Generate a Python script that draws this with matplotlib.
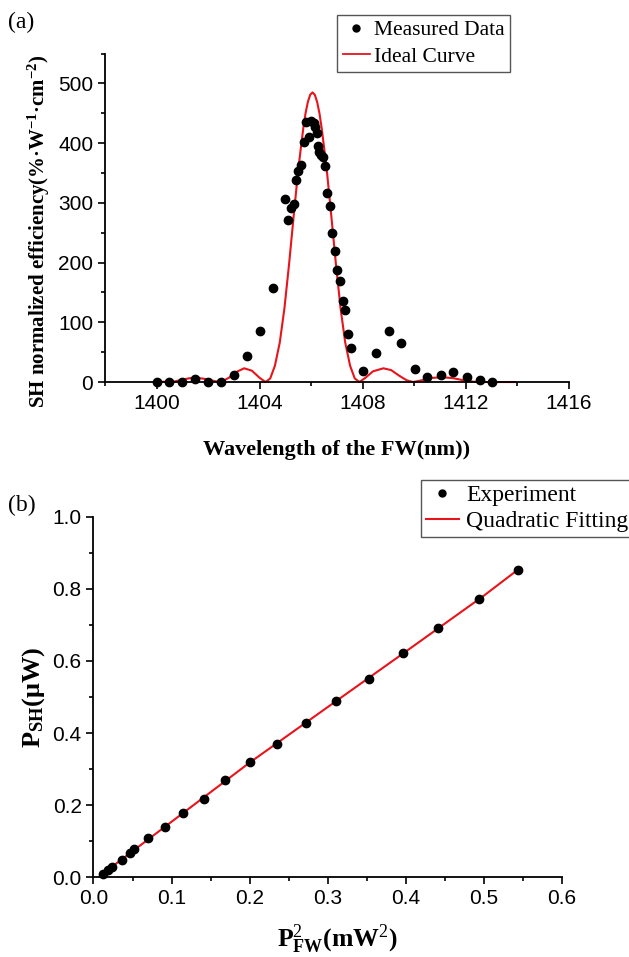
import matplotlib
matplotlib.use("Agg")
import matplotlib.pyplot as plt
from matplotlib.ticker import MultipleLocator
from matplotlib.lines import Line2D

plt.rcParams["font.family"] = ["Liberation Sans", "DejaVu Sans"]
plt.rcParams["mathtext.fontset"] = "custom"
plt.rcParams["mathtext.rm"] = "Liberation Serif"
plt.rcParams["mathtext.it"] = "Liberation Serif:italic"
plt.rcParams["mathtext.bf"] = "Liberation Serif:bold"

# (a) SH normalized efficiency vs wavelength
meas_wl = [1400.0, 1400.5, 1401.0, 1401.5, 1402.0, 1402.5, 1403.0, 1403.5, 1404.0, 1404.5,
           1405.0, 1405.1, 1405.2, 1405.32, 1405.4, 1405.5, 1405.62, 1405.72, 1405.81, 1405.91,
           1405.99, 1406.1, 1406.15, 1406.23, 1406.27, 1406.31, 1406.38, 1406.46, 1406.52, 1406.6,
           1406.71, 1406.82, 1406.91, 1407.0, 1407.11, 1407.23, 1407.32, 1407.42, 1407.53, 1408.0,
           1408.52, 1409.01, 1409.5, 1410.02, 1410.51, 1411.02, 1411.5, 1412.03, 1412.53, 1413.02]
meas_eff = [0, 0, 0, 5, 0, 0, 11, 44, 85, 158,
            306, 271, 291, 298, 339, 353, 364, 402, 436, 411,
            437, 434, 427, 417, 396, 386, 380, 376, 361, 316,
            294, 250, 220, 187, 169, 135, 121, 80, 57, 18,
            48, 86, 65, 22, 8, 12, 17, 8, 4, 0]

ideal_wl = [1400.0, 1400.3, 1400.6, 1401.0, 1401.3, 1401.6, 1401.9, 1402.2, 1402.5, 1402.8,
            1403.1, 1403.4, 1403.7, 1404.0, 1404.23, 1404.41, 1404.59, 1404.78, 1404.96, 1405.14,
            1405.32, 1405.5, 1405.69, 1405.78, 1405.87, 1405.96, 1406.05, 1406.14, 1406.23, 1406.32,
            1406.41, 1406.6, 1406.78, 1406.96, 1407.14, 1407.32, 1407.51, 1407.69, 1407.87, 1408.1,
            1408.4, 1408.8, 1409.1, 1409.4, 1409.7, 1409.95, 1410.3, 1410.7, 1411.1, 1411.5,
            1411.9, 1412.3, 1412.7, 1413.9]
ideal_eff = [0, 0.5, 0, 4, 6.5, 7, 5, 2, 0, 7,
             17, 23, 19, 7, 0, 6, 27, 66, 123, 197,
             278, 357, 424, 450, 469, 481, 485, 481, 469, 450,
             424, 357, 278, 197, 123, 66, 27, 6, 0, 7,
             18, 23, 20, 11, 3, 0, 3, 7, 8, 6.5,
             3, 0.5, 0, 0]

# (b) SH power vs FW power squared
p_fw2 = [0.0128, 0.0184, 0.0235, 0.0368, 0.0462, 0.0513, 0.0697, 0.091, 0.115, 0.1415,
         0.169, 0.2009, 0.2355, 0.2727, 0.311, 0.3526, 0.3966, 0.4414, 0.4936, 0.5432]
p_sh = [0.009, 0.020, 0.029, 0.048, 0.068, 0.078, 0.109, 0.139, 0.179, 0.218,
        0.270, 0.320, 0.369, 0.429, 0.490, 0.551, 0.621, 0.690, 0.771, 0.852]
fit_x = [0.012, 0.1, 0.2, 0.3, 0.4, 0.5, 0.543]
fit_y = [0.010, 0.154, 0.318, 0.472, 0.626, 0.781, 0.852]

serif = "Liberation Serif"
red = "#e8141c"


def style_axes(ax):
    for s in ("top", "right"):
        ax.spines[s].set_visible(False)
    for s in ("left", "bottom"):
        ax.spines[s].set_linewidth(1.3)
    ax.tick_params(which="major", direction="out", length=5, width=1.2, labelsize=15)
    ax.tick_params(which="minor", direction="out", length=3, width=1.2)


fig = plt.figure(figsize=(6.29, 9.57), dpi=100)

ax1 = fig.add_axes([0.1669, 0.6008, 0.7377, 0.3432])
ax1.plot(ideal_wl, ideal_eff, color=red, lw=1.5, clip_on=False, zorder=2)
ax1.plot(meas_wl, meas_eff, "o", color="black", ms=6, clip_on=False, zorder=3)
ax1.set_xlim(1398, 1416)
ax1.set_ylim(0, 550)
ax1.xaxis.set_major_locator(MultipleLocator(4))
ax1.xaxis.set_minor_locator(MultipleLocator(2))
ax1.yaxis.set_major_locator(MultipleLocator(100))
ax1.yaxis.set_minor_locator(MultipleLocator(50))
style_axes(ax1)
ax1.set_yticks([0, 100, 200, 300, 400, 500])
ax1.set_xlabel("Wavelength of the FW(nm))", family=serif, weight="bold", fontsize=16)
ax1.xaxis.set_label_coords(0.5, -0.175)
ax1.set_ylabel(r"SH normalized efficiency(%·W$^{\mathbf{-1}}$·cm$^{\mathbf{-2}}$)",
               family=serif, weight="bold", fontsize=15)
ax1.yaxis.set_label_coords(-0.115, 0.46)

leg1 = ax1.legend(
    handles=[Line2D([], [], ls="none", marker="o", color="black", ms=5),
             Line2D([], [], color=red, lw=1.3)],
    labels=["Measured Data", "Ideal Curve"],
    loc="upper right", bbox_to_anchor=(510 / 629, 1 - 15 / 957),
    bbox_transform=fig.transFigure, prop={"family": serif, "size": 15.5},
    frameon=True, fancybox=False, edgecolor="#555555", framealpha=1,
    borderpad=0.25, handlelength=1.25, handletextpad=0.2, labelspacing=0.3,
    borderaxespad=0)
leg1.get_frame().set_linewidth(1.0)

ax2 = fig.add_axes([0.1486, 0.0833, 0.7448, 0.3768])
ax2.plot(fit_x, fit_y, color=red, lw=1.5, zorder=2)
ax2.plot(p_fw2, p_sh, "o", color="black", ms=6, zorder=3, clip_on=False)
ax2.set_xlim(0, 0.6)
ax2.set_ylim(0, 1.0)
ax2.xaxis.set_major_locator(MultipleLocator(0.1))
ax2.xaxis.set_minor_locator(MultipleLocator(0.05))
ax2.yaxis.set_major_locator(MultipleLocator(0.2))
ax2.yaxis.set_minor_locator(MultipleLocator(0.1))
style_axes(ax2)
ax2.set_xlabel(r"$\mathbf{P}^{2}_{\mathbf{FW}}$(mW$^{2}$)", family=serif, weight="bold", fontsize=18.5)
ax2.xaxis.set_label_coords(0.52, -0.125)
ax2.set_ylabel(r"$\mathbf{P}_{\mathbf{SH}}$(μW)", family=serif, weight="bold", fontsize=19)
ax2.yaxis.set_label_coords(-0.1, 0.5)

leg2 = ax2.legend(
    handles=[Line2D([], [], ls="none", marker="o", color="black", ms=5),
             Line2D([], [], color=red, lw=1.5)],
    labels=["Experiment", "Quadratic Fitting"],
    loc="upper left", bbox_to_anchor=(421 / 629, 1 - 480 / 957),
    bbox_transform=fig.transFigure, prop={"family": serif, "size": 17},
    frameon=True, fancybox=False, edgecolor="#555555", framealpha=1,
    borderpad=0.2, handlelength=1.4, handletextpad=0.3, labelspacing=0.2,
    borderaxespad=0)
leg2.get_frame().set_linewidth(1.0)

fig.text(8 / 629, 1 - 22 / 957, "(a)", family=serif, fontsize=17, va="center", ha="left")
fig.text(8 / 629, 1 - 505 / 957, "(b)", family=serif, fontsize=17, va="center", ha="left")

fig.savefig("out.png", dpi=100)
